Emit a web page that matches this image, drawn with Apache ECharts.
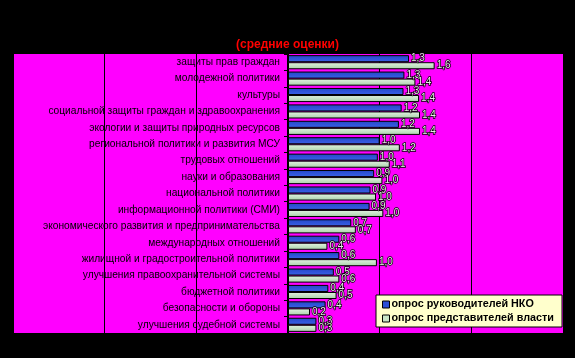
<!DOCTYPE html>
<html><head><meta charset="utf-8">
<script src="https://cdn.jsdelivr.net/npm/echarts@6/dist/echarts.min.js"></script>
<style>html,body{margin:0;padding:0;background:#000;}#c{width:575px;height:358px;}</style>
</head><body><div id="c"></div>
<script>
var title = '(средние оценки)';
var categories = [
  'защиты прав граждан',
  'молодежной политики',
  'культуры',
  'социальной защиты граждан и здравоохранения',
  'экологии и защиты природных ресурсов',
  'региональной политики и развития МСУ',
  'трудовых отношений',
  'науки и образования',
  'национальной политики',
  'информационной политики (СМИ)',
  'экономического развития и предпринимательства',
  'международных отношений',
  'жилищной и градостроительной политики',
  'улучшения правоохранительной системы',
  'бюджетной политики',
  'безопасности и обороны',
  'улучшения судебной системы'
];
var seriesNames = ['опрос руководителей НКО', 'опрос представителей власти'];
var nkoValues  = [1.32, 1.27, 1.26, 1.24, 1.21, 1.00, 0.98, 0.94, 0.90, 0.89, 0.69, 0.56, 0.56, 0.50, 0.44, 0.41, 0.31];
var govValues  = [1.60, 1.39, 1.43, 1.44, 1.44, 1.22, 1.11, 1.03, 0.96, 1.04, 0.74, 0.43, 0.97, 0.56, 0.53, 0.24, 0.31];
var xTicks = { min: -3, max: 3, interval: 1 };

var chart = echarts.init(document.getElementById('c'), null, {renderer: 'canvas'});
function grad(a, b) {
  return new echarts.graphic.LinearGradient(0, 0, 0, 1, [{offset: 0, color: a}, {offset: 1, color: b}]);
}
var lbl = {
  show: true, position: 'right', distance: 2,
  fontFamily: 'Arial', fontSize: 10, color: '#e8e8e8',
  textBorderColor: '#000', textBorderWidth: 1.5,
  formatter: function (p) { return p.value.toFixed(1).replace('.', ','); }
};
var gridLeft = 13, gridRight = 12, plotW = 575 - gridLeft - gridRight;
var zeroShift = plotW * (0 - xTicks.min) / (xTicks.max - xTicks.min);
chart.setOption({
  backgroundColor: '#000',
  animation: false,
  title: {
    text: title, left: 'center', top: 34,
    textStyle: {color: '#ff0000', fontFamily: 'Arial', fontWeight: 'bold', fontSize: 12}
  },
  grid: {
    left: gridLeft, right: gridRight, top: 54, bottom: 25, containLabel: false, outerBoundsMode: 'none',
    show: true, backgroundColor: '#ff00ff', borderWidth: 0
  },
  legend: {
    orient: 'vertical', left: 376, top: 295,
    backgroundColor: '#ffffcc', borderColor: '#000', borderWidth: 1,
    padding: [4, 8, 3, 6], itemGap: 3, itemWidth: 7, itemHeight: 7,
    textStyle: {fontFamily: 'Arial', fontWeight: 'bold', fontSize: 10.8, color: '#000', padding: [0, 0, 0, -3]},
    data: [
      {name: seriesNames[0], icon: 'rect', itemStyle: {color: '#2a4fd6', borderColor: '#000', borderWidth: 1}},
      {name: seriesNames[1], icon: 'rect', itemStyle: {color: '#c8e6c8', borderColor: '#000', borderWidth: 1}}
    ]
  },
  xAxis: {
    type: 'value', min: xTicks.min, max: xTicks.max, interval: xTicks.interval,
    axisLine: {show: false}, axisTick: {show: false}, axisLabel: {show: false},
    splitLine: {show: true, lineStyle: {color: '#000', width: 1}}
  },
  yAxis: {
    type: 'category', data: categories, inverse: true,
    position: 'left', offset: -zeroShift,
    axisLine: {show: true, onZero: false, lineStyle: {color: '#000', width: 2}},
    axisTick: {show: true, length: 4, lineStyle: {color: '#000'}},
    axisLabel: {fontFamily: 'Arial', fontSize: 10.2, color: '#000', margin: 8}
  },
  series: [
    {
      name: seriesNames[0], type: 'bar', data: nkoValues,
      barGap: '0%', barCategoryGap: '14%',
      itemStyle: {color: grad('#2446c8', '#3a62e8'), borderColor: '#000', borderWidth: 1},
      label: lbl
    },
    {
      name: seriesNames[1], type: 'bar', data: govValues,
      itemStyle: {color: grad('#e4f4e4', '#a8d0a8'), borderColor: '#000', borderWidth: 1},
      label: lbl
    }
  ]
});
</script>
</body></html>
